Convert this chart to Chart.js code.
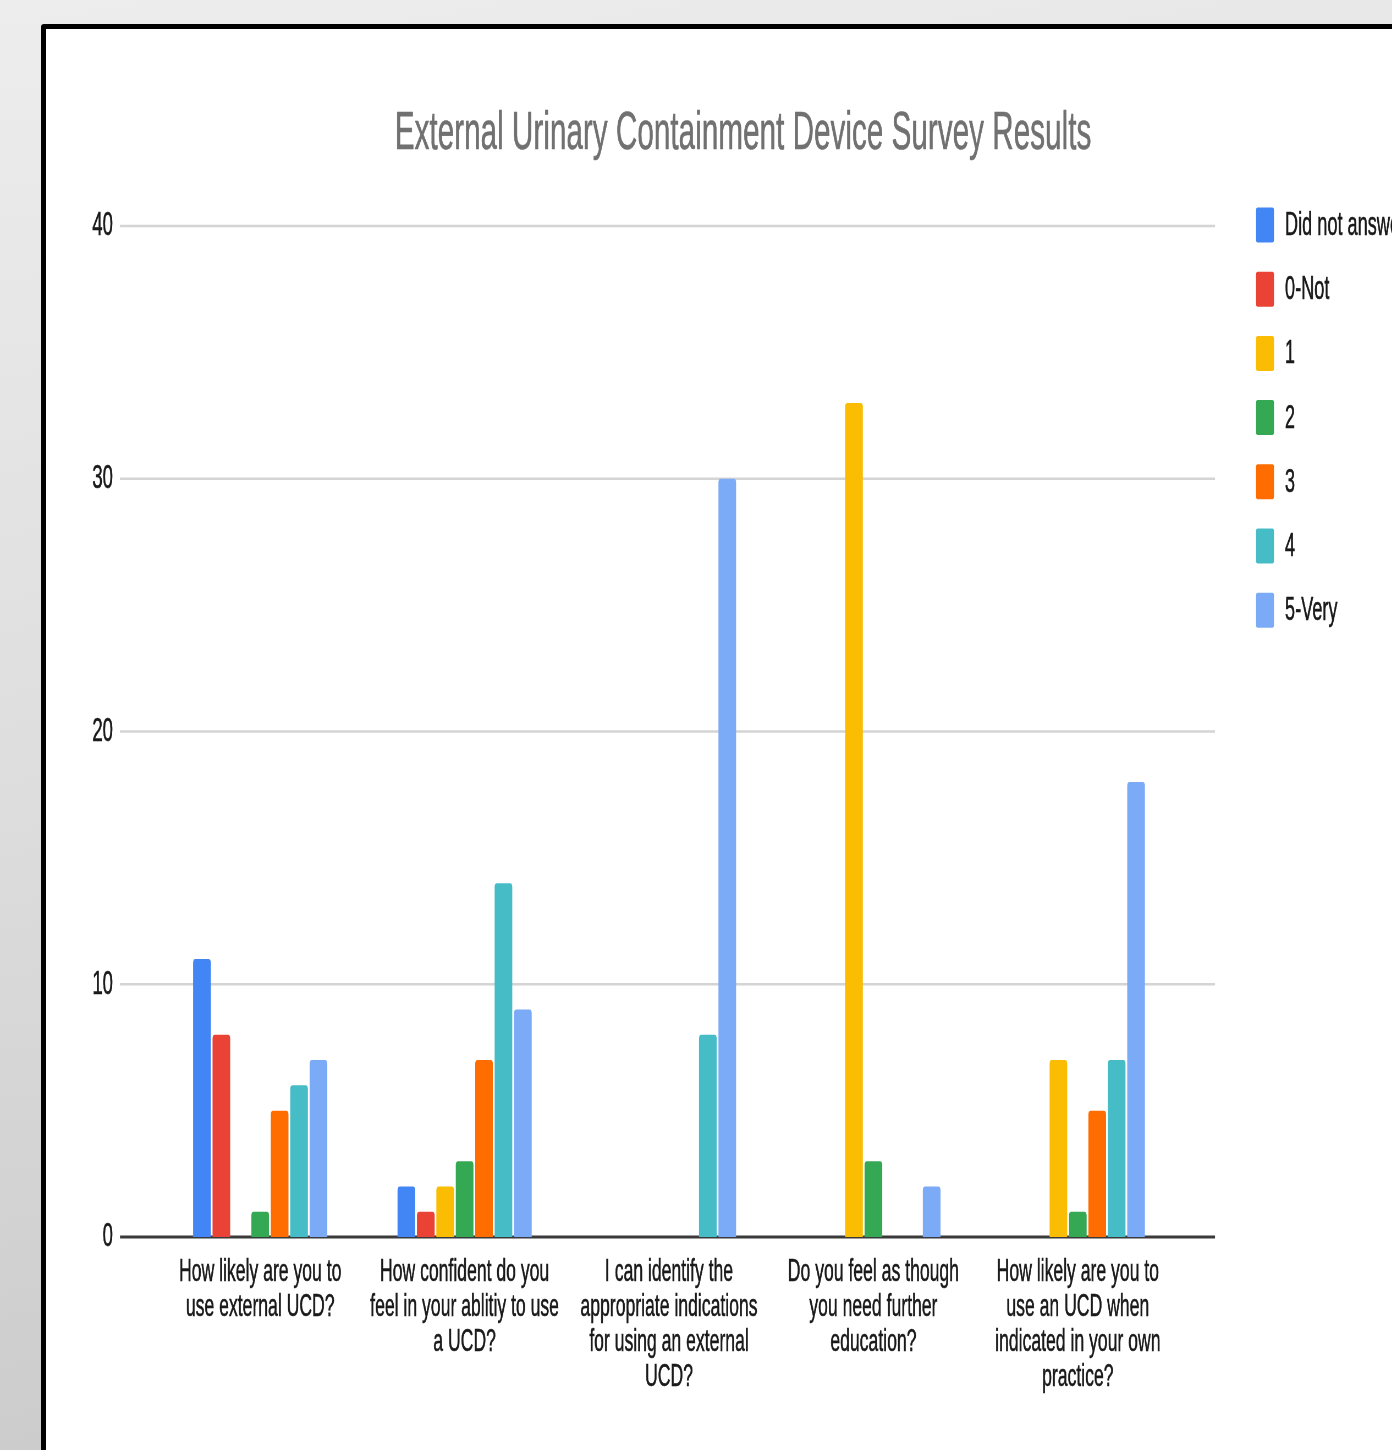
<!DOCTYPE html>
<html>
<head>
<meta charset="utf-8">
<title>External Urinary Containment Device Survey Results</title>
<script src="https://cdn.jsdelivr.net/npm/chart.js@4/dist/chart.umd.min.js"></script>
<style>
  html, body { margin: 0; padding: 0; width: 1392px; height: 1450px; overflow: hidden; }
  body {
    position: relative;
    background: linear-gradient(170deg, #ededed 0%, #dedede 45%, #c6c6c6 100%);
    font-family: "Liberation Sans", Arial, sans-serif;
  }
  #frame {
    position: absolute; left: 41px; top: 24px;
    width: 1600px; height: 1600px;
    background: #fff; border: 5px solid #000; border-radius: 3px;
  }
  /* the source picture is squeezed sideways, so the chart is drawn wide and scaled down */
  #squeeze { position: absolute; left: 0; top: 0; transform-origin: 0 0; }
</style>
</head>
<body>
<div id="frame"></div>
<div id="squeeze"><canvas id="surveyChart"></canvas></div>

<script>
// ── Data ─────────────────────────────────────────────────────────────────────
const chartTitle = 'External Urinary Containment Device Survey Results';

const questions = [
  ['How likely are you to', 'use external UCD?'],
  ['How confident do you', 'feel in your ablitiy to use', 'a UCD?'],
  ['I can identify the', 'appropriate indications', 'for using an external', 'UCD?'],
  ['Do you feel as though', 'you need further', 'education?'],
  ['How likely are you to', 'use an UCD when', 'indicated in your own', 'practice?']
];

const seriesNames  = ['Did not answer', '0-Not', '1', '2', '3', '4', '5-Very'];
const seriesColors = ['#4285F4', '#EA4335', '#FBBC04', '#34A853', '#FF6D01', '#46BDC6', '#7BAAF7'];

const didNotAnswer = [11, 2, 0, 0, 0];
const notAtAll     = [8, 1, 0, 0, 0];
const rating1      = [0, 2, 0, 33, 7];
const rating2      = [1, 3, 0, 3, 1];
const rating3      = [5, 7, 0, 0, 5];
const rating4      = [6, 14, 8, 0, 7];
const veryMuch     = [7, 9, 30, 2, 18];

const yTicks = [0, 10, 20, 30, 40];

// ── Layout (page pixels, converted to the wide canvas) ─────────────────────
const SQUEEZE = 0.55;
const W = Math.round(1392 / SQUEEZE);
const H = 1450;
const ux = x => x / SQUEEZE;

const wrap = document.getElementById('squeeze');
wrap.style.width = W + 'px';
wrap.style.height = H + 'px';
wrap.style.transform = `scaleX(${SQUEEZE})`;

const canvas = document.getElementById('surveyChart');
canvas.width = W;
canvas.height = H;

const FONT = '"Liberation Sans", Arial, sans-serif';
const INK = '#1a1a1a';
const STROKE = 0.6;   // the source text is a touch heavier than plain regular

// grid lines run wider than the bar area, title + legend drawn by hand
const decor = {
  id: 'decor',
  beforeDatasetsDraw(chart) {
    const { ctx } = chart;
    const y = chart.scales.y;
    ctx.save();
    yTicks.forEach(v => {
      const py = y.getPixelForValue(v);
      ctx.beginPath();
      ctx.strokeStyle = v === 0 ? '#3a3a3a' : '#d4d4d4';
      ctx.lineWidth = v === 0 ? 3 : 2.5;
      ctx.moveTo(ux(120), py);
      ctx.lineTo(ux(1215), py);
      ctx.stroke();
    });
    ctx.restore();
  },
  afterDraw(chart) {
    const { ctx } = chart;
    ctx.save();
    ctx.lineJoin = 'round';
    ctx.fillStyle = ctx.strokeStyle = '#717171';
    ctx.lineWidth = STROKE;
    ctx.font = `54px ${FONT}`;
    ctx.textAlign = 'center';
    ctx.textBaseline = 'alphabetic';
    ctx.fillText(chartTitle, ux(743), 149);
    ctx.strokeText(chartTitle, ux(743), 149);

    ctx.font = `33px ${FONT}`;
    ctx.textAlign = 'left';
    ctx.textBaseline = 'middle';
    chart.data.datasets.forEach((ds, i) => {
      const cy = 225 + i * 64.2;
      ctx.fillStyle = ds.backgroundColor;
      ctx.beginPath();
      ctx.roundRect(ux(1256), cy - 17.5, ux(18), 35, 3);
      ctx.fill();
      ctx.fillStyle = ctx.strokeStyle = INK;
      ctx.fillText(ds.label, ux(1285), cy + 1);
      ctx.strokeText(ds.label, ux(1285), cy + 1);
    });
    ctx.restore();
  }
};

const seriesValues = [didNotAnswer, notAtAll, rating1, rating2, rating3, rating4, veryMuch];

new Chart(canvas.getContext('2d'), {
  type: 'bar',
  data: {
    labels: questions,
    datasets: seriesValues.map((vals, i) => ({
      label: seriesNames[i],
      data: vals,
      backgroundColor: seriesColors[i],
      borderRadius: 4,
      borderSkipped: 'start',
      categoryPercentage: 0.665,
      barPercentage: 0.91
    }))
  },
  options: {
    responsive: false,
    animation: false,
    devicePixelRatio: 1,
    layout: { padding: { left: 0, right: W - ux(1180), top: 226, bottom: 0 } },
    plugins: {
      legend: { display: false },
      title: { display: false },
      tooltip: { enabled: false }
    },
    scales: {
      x: {
        grid: { display: false, drawTicks: false },
        border: { display: false },
        ticks: {
          color: INK,
          textStrokeColor: INK,
          textStrokeWidth: STROKE,
          font: { family: FONT, size: 32, lineHeight: 1.09 },
          padding: 18,
          maxRotation: 0,
          autoSkip: false
        },
        afterFit: s => { s.height = H - 1237; }
      },
      y: {
        min: 0,
        max: 40,
        grid: { display: false, drawTicks: false },
        border: { display: false },
        ticks: {
          stepSize: 10,
          color: INK,
          textStrokeColor: INK,
          textStrokeWidth: STROKE,
          font: { family: FONT, size: 34 },
          padding: ux(158) - ux(113)
        },
        afterFit: s => { s.width = ux(158); }
      }
    }
  },
  plugins: [decor]
});
</script>
</body>
</html>
